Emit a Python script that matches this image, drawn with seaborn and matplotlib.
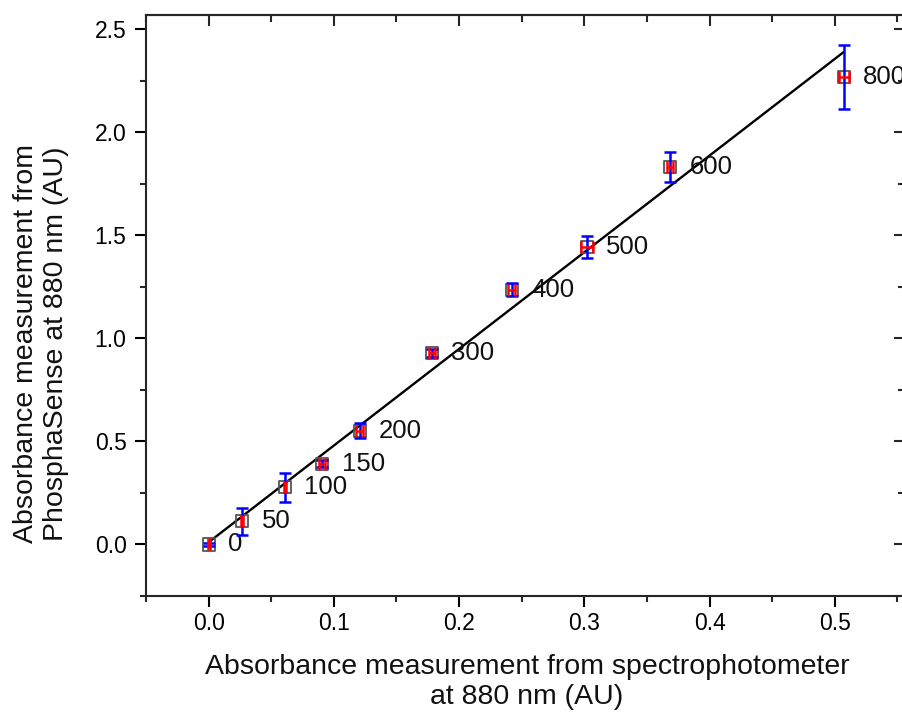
import numpy as np
import pandas as pd
import matplotlib
matplotlib.use("Agg")
import matplotlib.pyplot as plt
import seaborn as sns
from matplotlib.ticker import MultipleLocator

# %% data
conc_labels = ["0", "50", "100", "150", "200", "300", "400", "500", "600", "800"]
spectro = [0.0, 0.027, 0.0606, 0.0907, 0.1206, 0.178, 0.242, 0.302, 0.3686, 0.507]
phospha = [0.0, 0.112, 0.278, 0.392, 0.553, 0.930, 1.236, 1.443, 1.832, 2.268]
spectro_err = [0.0008, 0.0008, 0.0008, 0.0024, 0.003, 0.0024, 0.003, 0.005, 0.0024, 0.004]
phospha_err = [0.006, 0.066, 0.070, 0.018, 0.036, 0.02, 0.031, 0.052, 0.074, 0.155]

# fitted line end points
fit_x = [0.0, 0.507]
fit_y = [0.011, 2.39]

df = pd.DataFrame({"spectro": spectro, "phospha": phospha,
                   "xerr": spectro_err, "yerr": phospha_err, "label": conc_labels})
fit_df = pd.DataFrame({"x": fit_x, "y": fit_y})

# %% plot
sns.set_style("ticks")
plt.rcParams["font.family"] = ["Liberation Sans", "DejaVu Sans"]

fig = plt.figure(figsize = (9.03, 7.17), dpi = 100)
ax = fig.add_axes([146 / 903, (717 - 596) / 717, 759 / 903, 581 / 717])

sns.lineplot(x = "x", y = "y", data = fit_df, color = "black", linewidth = 1.7, ax = ax, zorder = 2)
sns.scatterplot(x = "spectro", y = "phospha", data = df, marker = "s", s = 75,
                facecolor = "none", edgecolor = "#555555", linewidth = 1.3, ax = ax, zorder = 3)

ax.errorbar(df["spectro"], df["phospha"], yerr = df["yerr"], fmt = "none",
            ecolor = "#0000ff", elinewidth = 1.8, capsize = 4.5, capthick = 1.8, zorder = 4)
ax.errorbar(df["spectro"], df["phospha"], xerr = df["xerr"], fmt = "none",
            ecolor = "#ff0000", elinewidth = 1.8, capsize = 4.5, capthick = 1.8, zorder = 5)

for xv, yv, lab in zip(df["spectro"], df["phospha"], df["label"]):
    ax.annotate(lab, (xv, yv), xytext = (14, 0), textcoords = "offset points",
                ha = "left", va = "center", fontsize = 18.5, color = "#111111")

ax.set_xlim(-0.05, 0.556)
ax.set_ylim(-0.25, 2.57)
ax.xaxis.set_major_locator(MultipleLocator(0.1))
ax.xaxis.set_minor_locator(MultipleLocator(0.05))
ax.yaxis.set_major_locator(MultipleLocator(0.5))
ax.yaxis.set_minor_locator(MultipleLocator(0.25))
ax.set_xticks(np.arange(0, 0.51, 0.1))
ax.set_xticklabels(["0.0", "0.1", "0.2", "0.3", "0.4", "0.5"])

for sp in ax.spines.values():
    sp.set_linewidth(1.5)
    sp.set_visible(True)

ax.tick_params(which = "major", direction = "out", length = 8, width = 1.5, labelsize = 16.5, colors = "black")
ax.tick_params(which = "minor", direction = "out", length = 4, width = 1.5)
ax.tick_params(axis = "x", which = "major", pad = 3.5)
ax.tick_params(axis = "y", which = "major", pad = 6)

top = ax.secondary_xaxis("top")
top.xaxis.set_major_locator(MultipleLocator(0.1))
top.xaxis.set_minor_locator(MultipleLocator(0.05))
top.tick_params(which = "major", direction = "in", length = 8, width = 1.5, labeltop = False)
top.tick_params(which = "minor", direction = "in", length = 5, width = 1.5)
right = ax.secondary_yaxis("right")
right.yaxis.set_major_locator(MultipleLocator(0.5))
right.yaxis.set_minor_locator(MultipleLocator(0.25))
right.tick_params(which = "major", direction = "in", length = 8, width = 1.5, labelright = False)
right.tick_params(which = "minor", direction = "in", length = 5, width = 1.5)
for s in (top, right):
    for sp in s.spines.values():
        sp.set_linewidth(1.5)

ax.set_xlabel("Absorbance measurement from spectrophotometer\nat 880 nm (AU)",
              fontsize = 20.5, linespacing = 1.2, va = "top", color = "#111111")
ax.set_ylabel("Absorbance measurement from\nPhosphaSense at 880 nm (AU)",
              fontsize = 20.5, linespacing = 1.2, va = "center", color = "#111111")
ax.xaxis.set_label_coords(0.502, -0.1)
ax.yaxis.set_label_coords(-0.138, 0.435)

fig.savefig("out.png", dpi = 100)
